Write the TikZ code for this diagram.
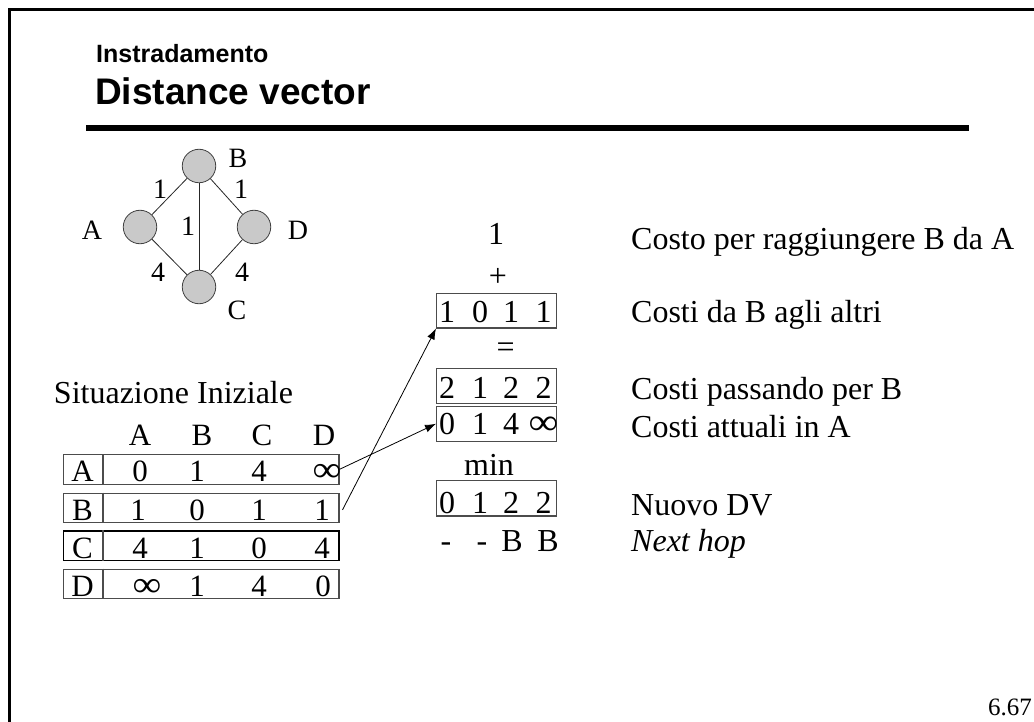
\documentclass[tikz,border=0pt]{standalone}
\usepackage{fontspec}
\usepackage{graphicx}
\setmainfont{Liberation Serif}
\newfontfamily\hvfont{Liberation Sans}
\newcommand\infsym{\scalebox{1.3}[1.15]{∞}}
\usetikzlibrary{arrows.meta,calc}
\begin{document}
\begin{tikzpicture}[x=1pt,y=-1pt,
  txt/.style={font=\fontsize{32}{38}\selectfont, inner sep=0pt, anchor=base},
  tab/.style={font=\fontsize{31}{37}\selectfont, inner sep=0pt, anchor=base},
  glab/.style={font=\fontsize{28}{33}\selectfont, inner sep=0pt},
  vertex/.style={circle, draw=black!75, fill=black!21, line width=0.8pt, minimum size=33.5pt, inner sep=0pt},
  gedge/.style={draw=black!85, line width=0.8pt},
  rowbox/.style={draw=black!70, line width=1.2pt, minimum width=275.6pt, minimum height=29.5pt, inner sep=0pt, anchor=north west},
  rowboxc/.style={rowbox, draw=black, line width=1.6pt},
  vecbox/.style={draw=black!70, line width=1.2pt, minimum width=120pt, minimum height=35pt, inner sep=0pt, anchor=north west},
  arr/.style={-{Latex[length=11pt,width=8pt]}, line width=0.8pt},
]
\useasboundingbox (0,0) rectangle (1034,722);
% frame
\draw[line width=3pt] (9.5,722) -- (9.5,9.5) -- (1034,9.5);
% title
\node[anchor=base west, inner sep=0pt, font=\hvfont\bfseries\fontsize{25}{30}\selectfont] (sub) at (96,62.7) {Instradamento};
\node[anchor=base west, inner sep=0pt, font=\hvfont\bfseries\fontsize{37}{44}\selectfont] (ttl) at (95,105) {Distance vector};
\draw[line width=5.7pt] (86,128) -- (969,128);

% graph
\node[vertex] (nB) at (199,166) {};
\node[vertex] (nA) at (140,227) {};
\node[vertex] (nD) at (254,227) {};
\node[vertex] (nC) at (199,287) {};
\draw[gedge] (nA) -- (nB);
\draw[gedge] (nB) -- (nD);
\draw[gedge] (nB) -- (nC);
\draw[gedge] (nA) -- (nC);
\draw[gedge] (nD) -- (nC);
\node[glab] (lB) at (238,158) {B};
\node[glab] (lA) at (92,230) {A};
\node[glab] (lD) at (298,230) {D};
\node[glab] (lC) at (237,310) {C};
\node[glab] (eAB) at (160,189) {1};
\node[glab] (eBD) at (241,189) {1};
\node[glab] (eBC) at (188,226) {1};
\node[glab] (eAC) at (158,272) {4};
\node[glab] (eDC) at (242,272) {4};

% initial table
\node[txt] (sit) at (173.5,403) {Situazione Iniziale};
\foreach \h/\x in {A/140,B/202,C/262,D/324}
  \node[tab] (h\h) at (\x,445) {\h};
\foreach \n/\top/\base/\st/\va/\vb/\vc/\vd/\xa/\xd in {
   A/454/481.5/rowbox/0/1/4/\infsym/140/327,
   B/492.5/520.5/rowbox/1/0/1/1/138/322,
   C/530/558/rowboxc/4/1/0/4/140/322,
   D/568.5/596.5/rowbox/\infsym/1/4/0/147/323}{
  \node[\st] (r\n) at (62.7,\top) {};
  \draw[draw=black!70, line width=1.2pt] ($(r\n.north west)+(40.3,0)$) -- ($(r\n.south west)+(40.3,0)$);
  \node[tab] (r\n l) at (82.5,\base) {\n};
  \node[tab] (r\n a) at (\xa,\base) {\va};
  \node[tab] (r\n b) at (197,\base) {\vb};
  \node[tab] (r\n c) at (259,\base) {\vc};
  \node[tab] (r\n d) at (\xd,\base) {\vd};
}

% computation column
\node[txt] (one) at (496,245) {1};
\node[txt, anchor=center] (plus) at (498,277) {+};
\node[vecbox, minimum height=34.6pt] (v1) at (436,292.7) {};
\node[txt, anchor=center] (eq) at (505.7,350.5) {=};
\node[vecbox] (v2) at (436,368) {};
\node[vecbox] (v3) at (436,405.7) {};
\node[txt] (mn) at (489,475) {min};
\node[vecbox, minimum height=35.3pt] (v4) at (436,480) {};
\foreach \k/\base/\da/\db/\dc/\dd in {1/323/1/0/1/1, 2/398/2/1/2/2, 3/434.5/0/1/4/\infsym, 4/513/0/1/2/2}{
  \node[txt] (d\k a) at (447,\base) {\da};
  \node[txt] (d\k b) at (480,\base) {\db};
  \node[txt] (d\k c) at (511,\base) {\dc};
  \node[txt] (d\k d) at (543.5,\base) {\dd};
}
\node[txt] (nh1) at (446,551.7) {-};
\node[txt] (nh2) at (482,551.7) {-};
\node[txt] (nh3) at (512,551.7) {B};
\node[txt] (nh4) at (548,551.7) {B};

% arrows
\draw[arr] (rA.east) -- (v3.west);
\draw[arr] ([xshift=3pt,yshift=-2pt]rB.east) -- (v1.south west);

% explanations
\node[txt, anchor=base west] (t1) at (631,250) {Costo per raggiungere B da A};
\node[txt, anchor=base west] (t2) at (631,322.7) {Costi da B agli altri};
\node[txt, anchor=base west] (t3) at (631,399) {Costi passando per B};
\node[txt, anchor=base west] (t4) at (631,437) {Costi attuali in A};
\node[txt, anchor=base west] (t5) at (631,515) {Nuovo DV};
\node[txt, anchor=base west] (t6) at (631,551.7) {\itshape Next hop};

% page number
\node[anchor=base east, inner sep=0pt, font=\fontsize{25}{30}\selectfont] (pg) at (1032,715) {6.67};
\end{tikzpicture}
\end{document}
